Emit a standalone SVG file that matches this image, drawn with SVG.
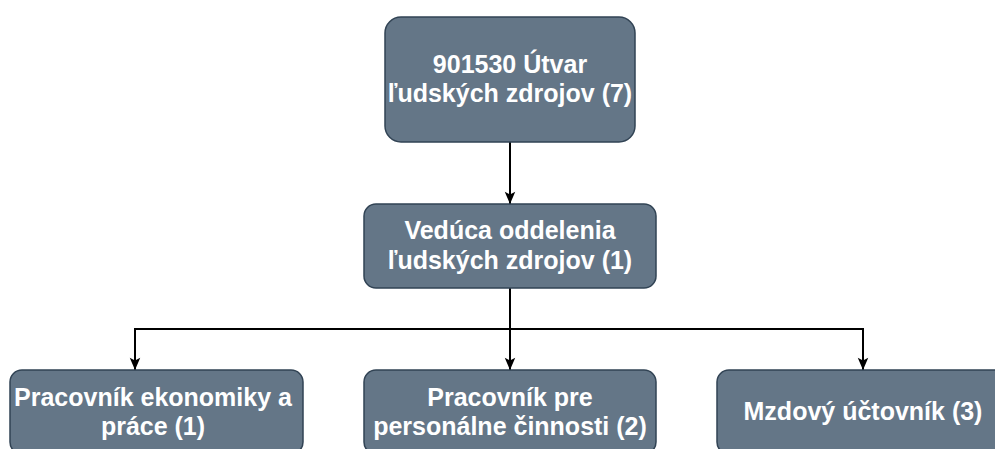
<svg xmlns="http://www.w3.org/2000/svg" width="995" height="449" viewBox="0 0 995 449">
<defs>
<style>
.node{fill:#647687;stroke:#314354;stroke-width:1.5}
.lbl{fill:#ffffff;font-family:"Liberation Sans",Arial,sans-serif;font-weight:bold;font-size:25px;text-anchor:middle}
.edge{fill:none;stroke:#000000;stroke-width:2}
</style>
<marker id="ah" markerUnits="userSpaceOnUse" markerWidth="14" markerHeight="16" refX="15" refY="7" orient="auto" viewBox="0 0 16 14">
<path d="M15 7 L1 1 L4 7 L1 13 Z" fill="#000000"/>
</marker>
</defs>
<g id="connectors">
<path class="edge" d="M510 142 V204" marker-end="url(#ah)"/>
<path class="edge" d="M510 288 V329 H135 V370" marker-end="url(#ah)"/>
<path class="edge" d="M510 288 V370" marker-end="url(#ah)"/>
<path class="edge" d="M510 288 V329 H863 V370" marker-end="url(#ah)"/>
</g>
<g id="node-utvar">
<rect class="node" x="385" y="17" width="250" height="125" rx="16"/>
<text class="lbl" x="510" y="73">901530 Útvar</text>
<text class="lbl" x="510" y="102">ľudských zdrojov (7)</text>
</g>
<g id="node-veduca">
<rect class="node" x="364" y="204" width="292" height="84" rx="12"/>
<text class="lbl" x="510" y="239">Vedúca oddelenia</text>
<text class="lbl" x="510" y="269">ľudských zdrojov (1)</text>
</g>
<g id="node-ekonomika">
<rect class="node" x="10" y="370" width="293" height="84" rx="12"/>
<text class="lbl" x="153" y="406">Pracovník ekonomiky a</text>
<text class="lbl" x="153" y="435">práce (1)</text>
</g>
<g id="node-personalne">
<rect class="node" x="364" y="370" width="292" height="84" rx="12"/>
<text class="lbl" x="510" y="406">Pracovník pre</text>
<text class="lbl" x="510" y="435">personálne činnosti (2)</text>
</g>
<g id="node-mzdovy">
<rect class="node" x="717" y="370" width="292" height="84" rx="12"/>
<text class="lbl" x="863" y="420">Mzdový účtovník (3)</text>
</g>
</svg>
